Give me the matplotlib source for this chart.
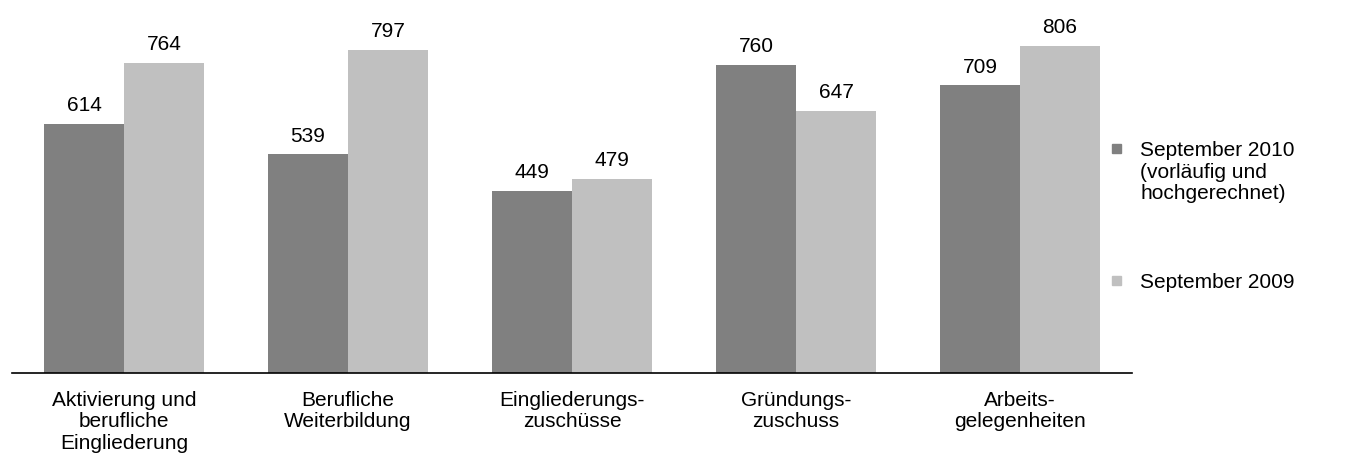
import matplotlib.pyplot as plt
from matplotlib.patches import Rectangle
import numpy as np

plt.rcParams['font.family'] = ['Liberation Sans', 'DejaVu Sans']

categories = ['Aktivierung und\nberufliche\nEingliederung', 'Berufliche\nWeiterbildung',
              'Eingliederungs-\nzuschüsse', 'Gründungs-\nzuschuss', 'Arbeits-\ngelegenheiten']
sep_2010 = [614, 539, 449, 760, 709]
sep_2009 = [764, 797, 479, 647, 806]
labels = ['September 2010\n(vorläufig und\nhochgerechnet)', 'September 2009']
colors = ['#808080', '#c0c0c0']

fig = plt.figure(figsize=(13.72, 4.6), dpi=100)
ax = fig.add_axes([12 / 1372, 86 / 460, 1120 / 1372, 374 / 460])

x = np.arange(len(categories))
w = 80 / 224
b1 = ax.bar(x - w / 2, sep_2010, w, color=colors[0])
b2 = ax.bar(x + w / 2, sep_2009, w, color=colors[1])

for bars in (b1, b2):
    for bar in bars:
        ax.annotate(str(int(bar.get_height())),
                    (bar.get_x() + bar.get_width() / 2, bar.get_height()),
                    xytext=(0, 7), textcoords='offset points',
                    ha='center', va='bottom', fontsize=15)

ax.set_xlim(-0.5, len(categories) - 0.5)
ax.set_ylim(0, 922)
ax.set_yticks([])
ax.set_xticks(x)
ax.set_xticklabels(categories, fontsize=15, linespacing=1.17)
ax.tick_params(axis='x', length=0, pad=12)
for s in ['top', 'right', 'left']:
    ax.spines[s].set_visible(False)
ax.spines['bottom'].set_linewidth(1.2)

# legend
for ypix, lab, c in [(150, labels[0], colors[0]), (282, labels[1], colors[1])]:
    fig.patches.append(Rectangle((1112 / 1372, 1 - (ypix + 4) / 460), 9 / 1372, 9 / 460,
                                 transform=fig.transFigure, color=c))
    fig.text(1140 / 1372, 1 - (ypix - 9) / 460, lab, fontsize=15, va='top', ha='left',
             linespacing=1.17)

fig.savefig('out.png', dpi=100)
